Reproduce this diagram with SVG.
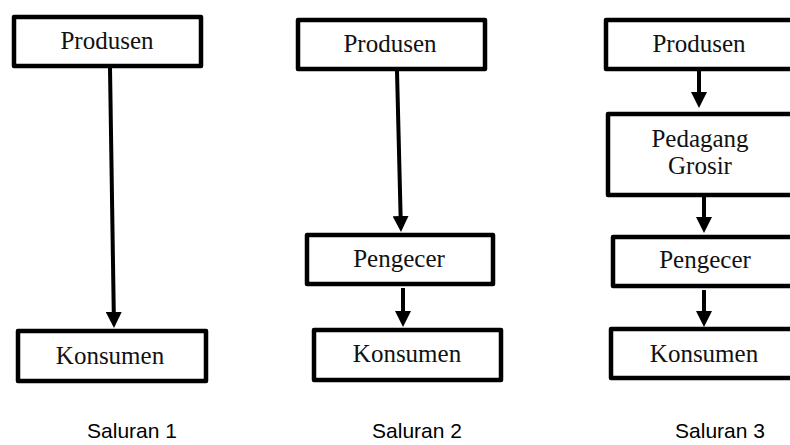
<svg xmlns="http://www.w3.org/2000/svg" width="790" height="445" viewBox="0 0 790 445">
  <style>
    .box { fill: #ffffff; stroke: #000000; stroke-width: 4.5; stroke-linejoin: round; }
    .lbl { font-family: "Liberation Serif", "Times New Roman", serif; font-size: 25px; fill: #111111; text-anchor: middle; }
    .cap { font-family: "Liberation Sans", Arial, sans-serif; font-size: 21px; fill: #000000; text-anchor: middle; }
    .conn { stroke: #000000; stroke-width: 4; fill: none; marker-end: url(#arrow); }
  </style>
  <defs>
    <marker id="arrow" viewBox="0 0 16 16" refX="6" refY="8" markerWidth="16" markerHeight="16" markerUnits="userSpaceOnUse" orient="auto">
      <path d="M0,0 L16,8 L0,16 z" fill="#000000"/>
    </marker>
  </defs>
  <rect x="0" y="0" width="790" height="445" fill="#ffffff"/>

  <g id="connectors">
    <path class="conn" d="M110,68 L113.85,318"/>
    <path class="conn" d="M397,71 L400.75,222"/>
    <path class="conn" d="M403,288 L403,317"/>
    <path class="conn" d="M699,71 L699,98"/>
    <path class="conn" d="M704,197 L704,223"/>
    <path class="conn" d="M704,290 L704,317"/>
  </g>

  <g id="s1-produsen">
    <rect class="box" x="14" y="17" width="187" height="49"/>
    <text class="lbl" x="107" y="49">Produsen</text>
  </g>
  <g id="s1-konsumen">
    <rect class="box" x="18" y="331" width="188" height="50"/>
    <text class="lbl" x="110" y="364">Konsumen</text>
  </g>

  <g id="s2-produsen">
    <rect class="box" x="298" y="20" width="187" height="49"/>
    <text class="lbl" x="390" y="52">Produsen</text>
  </g>
  <g id="s2-pengecer">
    <rect class="box" x="307" y="235" width="186" height="49"/>
    <text class="lbl" x="399" y="267">Pengecer</text>
  </g>
  <g id="s2-konsumen">
    <rect class="box" x="314" y="330" width="187" height="50"/>
    <text class="lbl" x="407" y="362">Konsumen</text>
  </g>

  <g id="s3-produsen">
    <rect class="box" x="606" y="20" width="195" height="49"/>
    <text class="lbl" x="699" y="52">Produsen</text>
  </g>
  <g id="s3-grosir">
    <rect class="box" x="608" y="114" width="195" height="81"/>
    <text class="lbl" x="700" y="147">Pedagang</text>
    <text class="lbl" x="700" y="174">Grosir</text>
  </g>
  <g id="s3-pengecer">
    <rect class="box" x="613" y="237" width="190" height="49"/>
    <text class="lbl" x="705" y="268">Pengecer</text>
  </g>
  <g id="s3-konsumen">
    <rect class="box" x="611" y="329" width="190" height="49"/>
    <text class="lbl" x="704" y="362">Konsumen</text>
  </g>

  <g id="captions">
    <text class="cap" x="132" y="438">Saluran 1</text>
    <text class="cap" x="417" y="438">Saluran 2</text>
    <text class="cap" x="720" y="438">Saluran 3</text>
  </g>
</svg>
